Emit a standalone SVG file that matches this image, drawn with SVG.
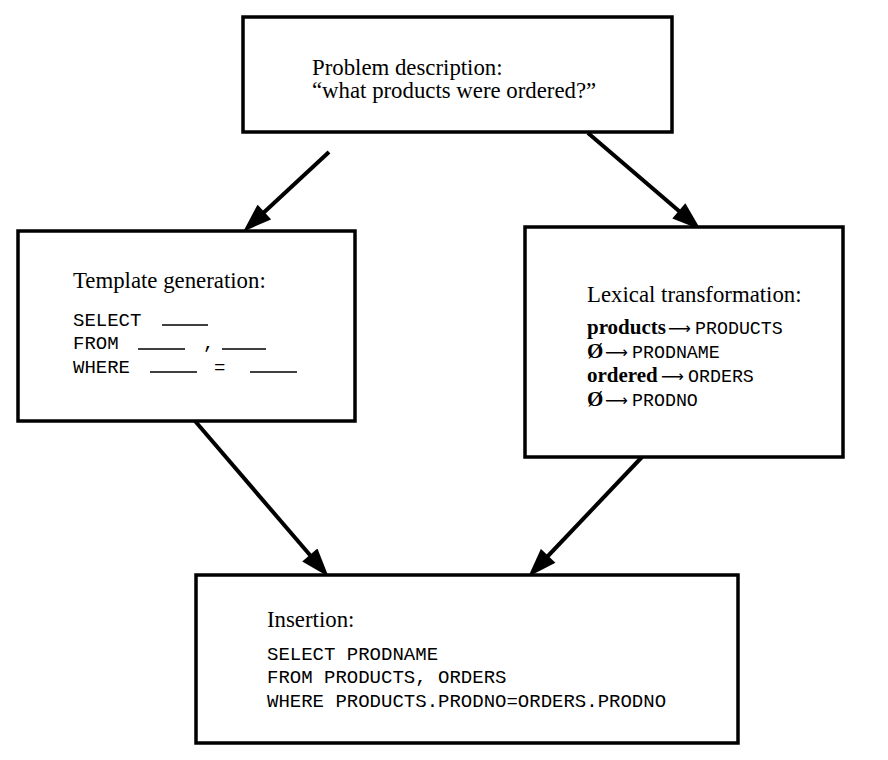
<svg xmlns="http://www.w3.org/2000/svg" width="888" height="760" viewBox="0 0 888 760">
<defs>
<style>
.box{fill:#fff;stroke:#000;stroke-width:3.5}
.head{font-family:"Liberation Serif","Times New Roman",serif;font-size:22.8px;fill:#000}
.bold{font-family:"Liberation Serif","Times New Roman",serif;font-size:21px;font-weight:bold;fill:#000}
.mono{font-family:"Liberation Mono","Courier New",monospace;font-size:19px;fill:#000}
.mono2{font-family:"Liberation Mono","Courier New",monospace;font-size:18.3px;fill:#000}
.arr{font-family:"DejaVu Sans",sans-serif;font-size:16px;fill:#000}
.blank{stroke:#000;stroke-width:1.5}
.conn{stroke:#000;stroke-width:4;fill:none;marker-end:url(#ah)}
</style>
<marker id="ah" markerUnits="userSpaceOnUse" markerWidth="30" markerHeight="20" viewBox="0 0 26 18" refX="4" refY="9" orient="auto">
<path d="M0,0 L26,9 L0,18 Z" fill="#000"/>
</marker>
</defs>
<rect width="888" height="760" fill="#fff"/>

<g id="connectors">
<line class="conn" x1="329" y1="152" x2="261.1" y2="215"/>
<line class="conn" x1="588" y1="133" x2="682.2" y2="213.8"/>
<line class="conn" x1="195" y1="421" x2="312.7" y2="558.3"/>
<line class="conn" x1="642" y1="457" x2="545.1" y2="559"/>
</g>

<g id="problem">
<rect class="box" x="243" y="17" width="429" height="115"/>
<text class="head" x="312" y="75">Problem description:</text>
<text class="head" x="312" y="98">“what products were ordered?”</text>
</g>

<g id="template">
<rect class="box" x="18" y="231" width="337" height="190"/>
<text class="head" x="73" y="288">Template generation:</text>
<text class="mono" x="73" y="326">SELECT</text>
<text class="mono" x="73" y="349">FROM</text>
<text class="mono" x="203" y="349">,</text>
<text class="mono" x="73" y="373">WHERE</text>
<text class="mono" x="214" y="373">=</text>
<line class="blank" x1="162" y1="325" x2="208" y2="325"/>
<line class="blank" x1="138" y1="349" x2="185" y2="349"/>
<line class="blank" x1="222" y1="349" x2="266" y2="349"/>
<line class="blank" x1="150" y1="372" x2="197" y2="372"/>
<line class="blank" x1="250" y1="372" x2="297" y2="372"/>
</g>

<g id="lexical">
<rect class="box" x="525" y="227" width="318" height="230"/>
<text class="head" x="587" y="302">Lexical transformation:</text>
<text class="bold" x="587" y="334">products</text>
<text class="arr" x="668" y="334">⟶</text>
<text class="mono2" x="695" y="334">PRODUCTS</text>
<text class="bold" x="587" y="358">Ø</text>
<text class="arr" x="605" y="358">⟶</text>
<text class="mono2" x="632" y="358">PRODNAME</text>
<text class="bold" x="587" y="382">ordered</text>
<text class="arr" x="661" y="382">⟶</text>
<text class="mono2" x="688" y="382">ORDERS</text>
<text class="bold" x="587" y="406">Ø</text>
<text class="arr" x="605" y="406">⟶</text>
<text class="mono2" x="632" y="406">PRODNO</text>
</g>

<g id="insertion">
<rect class="box" x="196" y="575" width="542" height="168"/>
<text class="head" x="267" y="627">Insertion:</text>
<text class="mono" x="267" y="660">SELECT PRODNAME</text>
<text class="mono" x="267" y="683">FROM PRODUCTS, ORDERS</text>
<text class="mono" x="267" y="707">WHERE PRODUCTS.PRODNO=ORDERS.PRODNO</text>
</g>
</svg>
